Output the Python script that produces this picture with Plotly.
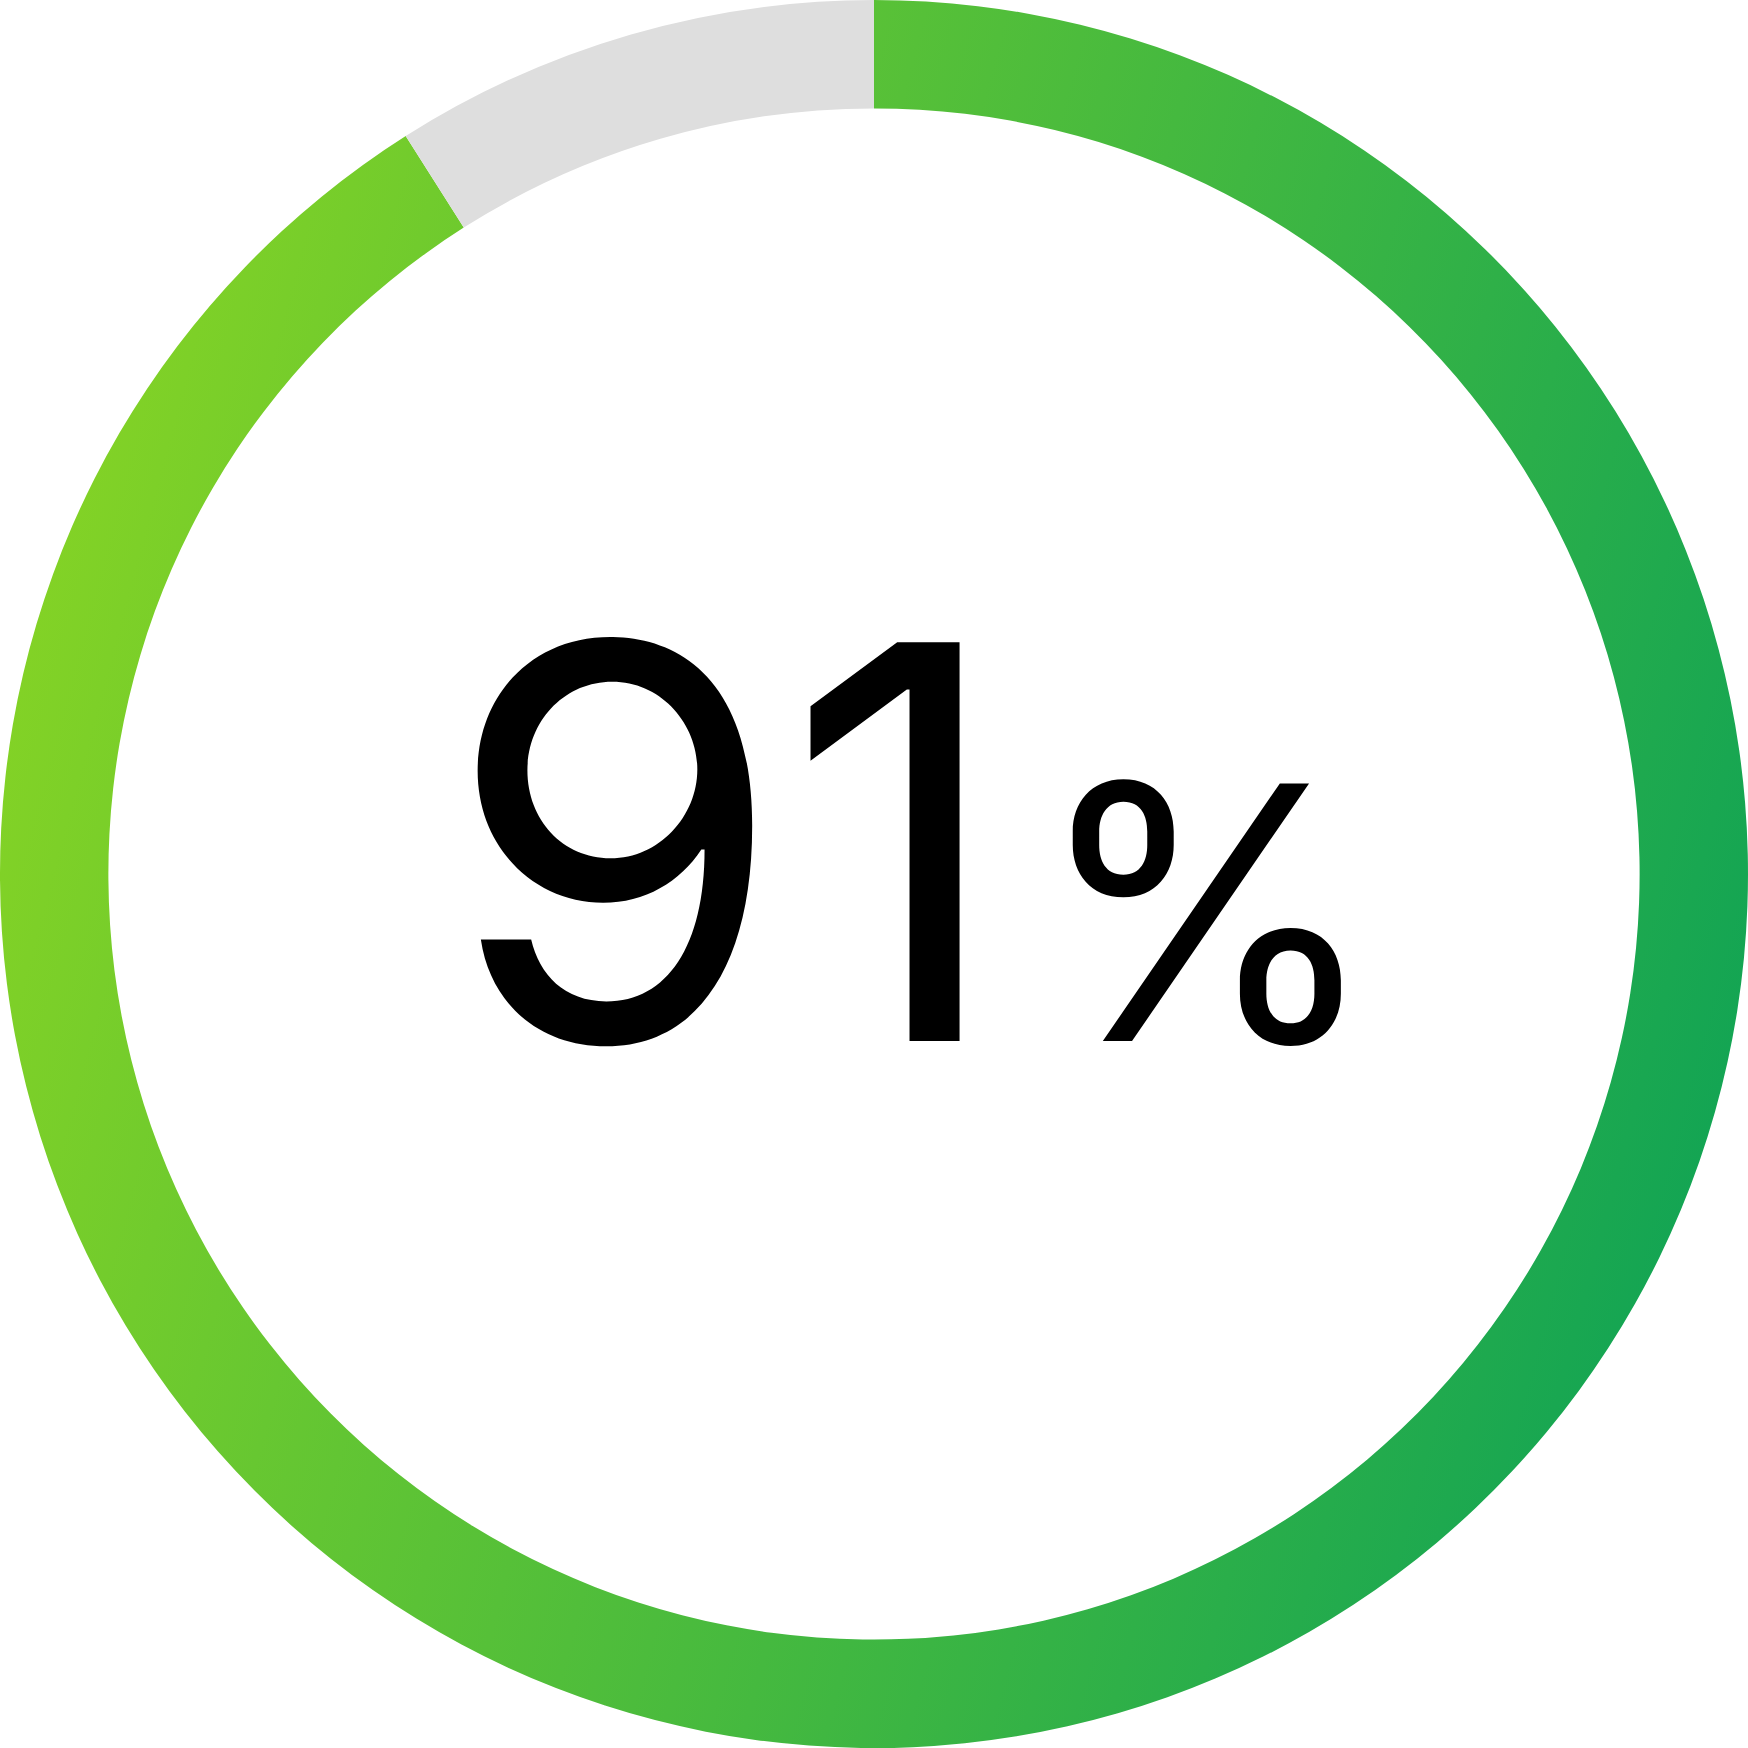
import math
import plotly.graph_objects as go

# dados do anel
labels = ["Concluído", "Restante"]
values = [91, 9]
slice_colors = ["#4cbb3f", "#dedede"]  # cor solida de reserva p/ fatia verde
grad_colors = ["#82d226", "#14a553"]   # degrade da fatia verde (esq -> dir)
grad_angle = 15  # graus abaixo da horizontal

numero = str(values[0])
sinal = "%"
fonte = "Inter, Roboto, Arial"

fig = go.Figure(go.Pie(
    labels=labels, values=values, hole=0.876, sort=False,
    direction="clockwise", rotation=0,
    marker=dict(colors=slice_colors, line=dict(width=0)),
    textinfo="none", hoverinfo="skip", showlegend=False,
))

fig.update_layout(
    width=1748, height=1748,
    margin=dict(l=0, r=0, t=0, b=0),
    paper_bgcolor="white", plot_bgcolor="white",
    annotations=[
        dict(text=numero, x=0.2532, y=0.5185, xref="paper", yref="paper",
             xanchor="left", yanchor="middle", showarrow=False,
             font=dict(family=fonte, size=548, color="black")),
        dict(text=sinal, x=0.590, y=0.4780, xref="paper", yref="paper",
             xanchor="left", yanchor="middle", showarrow=False,
             font=dict(family=fonte, size=354, color="black")),
    ],
)

# degrade linear na primeira fatia (plotly nao tem gradiente em pie)
a = math.radians(grad_angle)
x1, y1 = 0.5 - 0.5 * math.cos(a), 0.5 - 0.5 * math.sin(a)
x2, y2 = 0.5 + 0.5 * math.cos(a), 0.5 + 0.5 * math.sin(a)
js = """
document.body.style.margin = '0';
var gd = document.getElementById('{plot_id}');
var ns = 'http://www.w3.org/2000/svg';
var svg = gd.querySelector('svg.main-svg');
var defs = svg.querySelector('defs');
var lg = document.createElementNS(ns, 'linearGradient');
lg.setAttribute('id', 'anel-grad');
lg.setAttribute('x1', '%X1%'); lg.setAttribute('y1', '%Y1%');
lg.setAttribute('x2', '%X2%'); lg.setAttribute('y2', '%Y2%');
['%C1%', '%C2%'].forEach(function(c, i) {
  var s = document.createElementNS(ns, 'stop');
  s.setAttribute('offset', i);
  s.setAttribute('stop-color', c);
  lg.appendChild(s);
});
defs.appendChild(lg);
var p = gd.querySelector('g.slice path.surface');
if (p) { p.style.fill = 'url(#anel-grad)'; }
"""
js = (js.replace("%X1%", f"{x1:.4f}").replace("%Y1%", f"{y1:.4f}")
        .replace("%X2%", f"{x2:.4f}").replace("%Y2%", f"{y2:.4f}")
        .replace("%C1%", grad_colors[0]).replace("%C2%", grad_colors[1]))

fig.write_html("out.html", post_script=js, config={"displayModeBar": False})
